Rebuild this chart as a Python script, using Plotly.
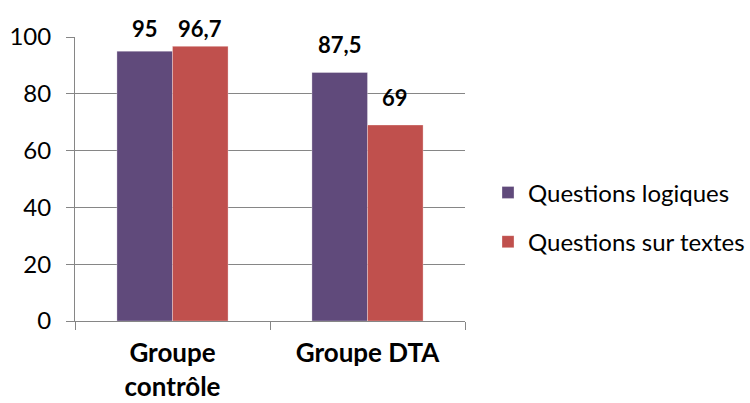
import plotly.graph_objects as go

categories = ["Groupe<br>contrôle", "Groupe DTA"]
series_names = ["Questions logiques", "Questions sur textes"]
logiques = [95, 87.5]
textes = [96.7, 69]
label_logiques = ["95", "87,5"]
label_textes = ["96,7", "69"]
y_ticks = [0, 20, 40, 60, 80, 100]

colors = ["#604A7B", "#C0504D"]
FONT = "Lato"

fig = go.Figure()
for i, (name, vals, col) in enumerate(zip(series_names, [logiques, textes], colors)):
    fig.add_trace(go.Bar(
        x=categories, y=vals, name=name,
        marker=dict(color=col, line=dict(width=0.6, color="rgba(255,255,255,0.5)")),
        legendgroup=f"g{i}",
        offsetgroup=str(i),
    ))

# data labels as annotations above bars (Excel-like placement)
plot_h = 284.0
for idx, (vals, labels) in enumerate([(logiques, label_logiques), (textes, label_textes)]):
    for c, v, lab in zip(categories, vals, labels):
        shift = min(28, (100 - v) * plot_h / 100 + 8.5)
        fig.add_annotation(
            x=c, y=v, text=f"<b>{lab}</b>", showarrow=False,
            xref="x", yref="y", yshift=shift,
            xshift=(-1 if idx == 0 else 1) * 27.75,
            font=dict(family=FONT, size=22, color="#000000"),
        )

fig.update_layout(
    width=750, height=403,
    margin=dict(l=75, r=285, t=37, b=82, autoexpand=False),
    paper_bgcolor="white", plot_bgcolor="white",
    barmode="group", bargap=0.43, bargroupgap=0,
    font=dict(family=FONT, size=24, color="#000000"),
    showlegend=True,
    legend=dict(
        x=1.059, xanchor="left", y=0.365, yanchor="middle",
        font=dict(family=FONT, size=24, color="#000000"),
        tracegroupgap=15, bgcolor="rgba(0,0,0,0)",
    ),
)
fig.update_xaxes(
    type="category", tickson="boundaries", automargin=False,
    ticks="outside", ticklen=8, tickcolor="#868686", tickwidth=1,
    showline=True, linecolor="#868686", linewidth=1,
    showgrid=False, ticklabelstandoff=9,
    tickfont=dict(family=FONT, size=26, color="#000000", weight="bold"),
)
fig.update_yaxes(
    range=[0, 100], tickvals=y_ticks, automargin=False,
    ticks="outside", ticklen=8, tickcolor="#868686", tickwidth=1,
    showline=True, linecolor="#868686", linewidth=1,
    showgrid=True, gridcolor="#868686", gridwidth=1,
    zeroline=False, ticklabelstandoff=10,
    tickfont=dict(family=FONT, size=24, color="#000000"),
)

fig.write_html(
    "out.html",
    config={"displayModeBar": False},
    post_script="document.body.style.margin='0';document.body.style.padding='0';",
)
